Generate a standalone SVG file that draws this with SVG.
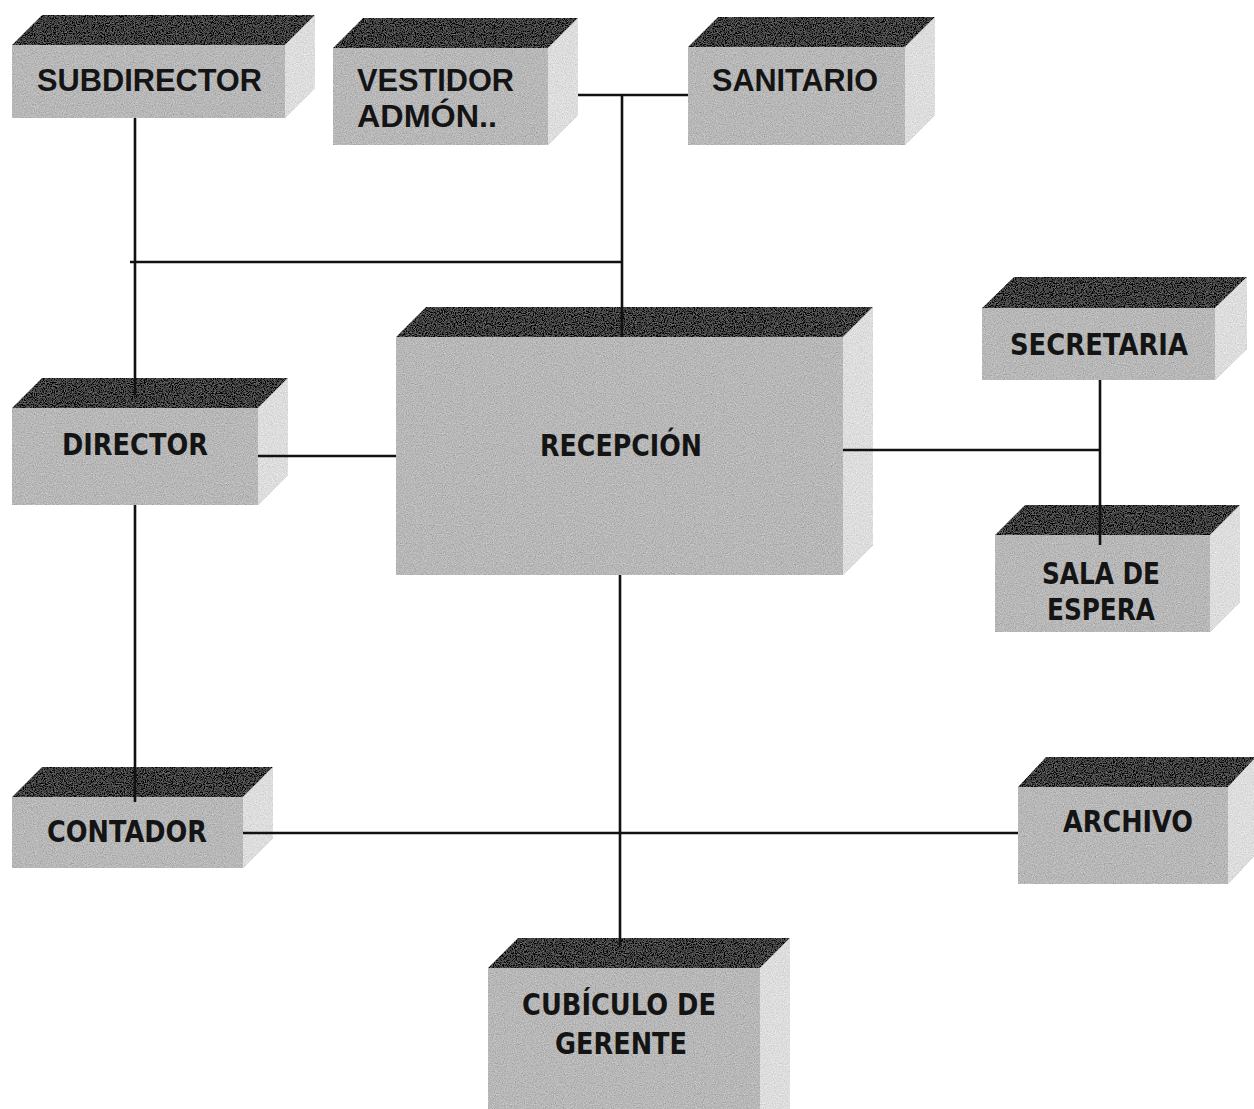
<svg xmlns="http://www.w3.org/2000/svg" width="1254" height="1109" viewBox="0 0 1254 1109">
<defs>
<filter id="grain" x="0" y="0" width="100%" height="100%">
<feTurbulence type="fractalNoise" baseFrequency="0.9" numOctaves="2" seed="4" result="n"/>
<feColorMatrix in="n" type="matrix" values="0.33 0.33 0.33 0 0 0.33 0.33 0.33 0 0 0.33 0.33 0.33 0 0 0 0 0 0 1" result="g"/>
<feComposite in="SourceGraphic" in2="g" operator="arithmetic" k1="0" k2="1" k3="0.7" k4="-0.34" result="m"/>
<feComposite in="m" in2="SourceGraphic" operator="in"/>
</filter>
<style>
.top{fill:#3a3a3a}
.front{fill:#b6b6b6}
.side{fill:#dcdcdc}
.box{filter:url(#grain)}
.a{font-family:"Liberation Sans",Arial,sans-serif;font-weight:bold;font-size:31px;fill:#141414}
.t{font-family:"DejaVu Sans",Verdana,sans-serif;font-weight:bold;font-size:30px;fill:#141414}
.ln{stroke:#111;stroke-width:2.6;fill:none}
</style>
</defs>
<rect width="1254" height="1109" fill="#ffffff"/>

<g id="subdirector">
<g class="box"><polygon class="top" points="12,45 42,15 315,15 285,45"/><polygon class="side" points="285,45 315,15 315,88 285,118"/><rect class="front" x="12" y="45" width="273" height="73"/></g>
<text class="a" x="37" y="91" textLength="225" lengthAdjust="spacingAndGlyphs">SUBDIRECTOR</text>
</g>

<g id="vestidor">
<g class="box"><polygon class="top" points="333,48 363,18 578,18 548,48"/><polygon class="side" points="548,48 578,18 578,115 548,145"/><rect class="front" x="333" y="48" width="215" height="97"/></g>
<text class="a" x="357" y="91" textLength="157" lengthAdjust="spacingAndGlyphs">VESTIDOR</text>
<text class="a" x="357" y="127" textLength="140" lengthAdjust="spacingAndGlyphs">ADMÓN..</text>
</g>

<g id="sanitario">
<g class="box"><polygon class="top" points="688,47 718,17 935,17 905,47"/><polygon class="side" points="905,47 935,17 935,115 905,145"/><rect class="front" x="688" y="47" width="217" height="98"/></g>
<text class="a" x="712" y="91" textLength="166" lengthAdjust="spacingAndGlyphs">SANITARIO</text>
</g>

<g id="secretaria">
<g class="box"><polygon class="top" points="982,308 1014,277 1247,277 1215,308"/><polygon class="side" points="1215,308 1247,277 1247,349 1215,380"/><rect class="front" x="982" y="308" width="233" height="72"/></g>
<text class="t" x="1010" y="355" textLength="178" lengthAdjust="spacingAndGlyphs">SECRETARIA</text>
</g>

<g id="sala-de-espera">
<g class="box"><polygon class="top" points="995,535 1025,505 1240,505 1210,535"/><polygon class="side" points="1210,535 1240,505 1240,602 1210,632"/><rect class="front" x="995" y="535" width="215" height="97"/></g>
<text class="t" x="1042" y="584" textLength="118" lengthAdjust="spacingAndGlyphs">SALA DE</text>
<text class="t" x="1047" y="620" textLength="108" lengthAdjust="spacingAndGlyphs">ESPERA</text>
</g>

<g id="director">
<g class="box"><polygon class="top" points="12,408 42,378 288,378 258,408"/><polygon class="side" points="258,408 288,378 288,475 258,505"/><rect class="front" x="12" y="408" width="246" height="97"/></g>
<text class="t" x="62" y="455" textLength="146" lengthAdjust="spacingAndGlyphs">DIRECTOR</text>
</g>

<g id="recepcion">
<g class="box"><polygon class="top" points="396,337 426,307 873,307 843,337"/><polygon class="side" points="843,337 873,307 873,545 843,575"/><rect class="front" x="396" y="337" width="447" height="238"/></g>
<text class="t" x="540" y="456" textLength="162" lengthAdjust="spacingAndGlyphs">RECEPCIÓN</text>
</g>

<g id="contador">
<g class="box"><polygon class="top" points="12,797 42,767 273,767 243,797"/><polygon class="side" points="243,797 273,767 273,838 243,868"/><rect class="front" x="12" y="797" width="231" height="71"/></g>
<text class="t" x="47" y="842" textLength="160" lengthAdjust="spacingAndGlyphs">CONTADOR</text>
</g>

<g id="archivo">
<g class="box"><polygon class="top" points="1018,787 1046,757 1256,757 1228,787"/><polygon class="side" points="1228,787 1256,757 1256,854 1228,884"/><rect class="front" x="1018" y="787" width="210" height="97"/></g>
<text class="t" x="1063" y="832" textLength="130" lengthAdjust="spacingAndGlyphs">ARCHIVO</text>
</g>

<g id="cubiculo-de-gerente">
<g class="box"><polygon class="top" points="488,968 518,938 790,938 760,968"/><polygon class="side" points="760,968 790,938 790,1109 760,1109"/><rect class="front" x="488" y="968" width="272" height="141"/></g>
<text class="t" x="522" y="1015" textLength="194" lengthAdjust="spacingAndGlyphs">CUBÍCULO DE</text>
<text class="t" x="555" y="1054" textLength="132" lengthAdjust="spacingAndGlyphs">GERENTE</text>
</g>

<g id="connectors" class="ln">
<line x1="135" y1="118" x2="135" y2="395"/>
<line x1="130" y1="262" x2="622" y2="262"/>
<line x1="622" y1="95" x2="622" y2="337"/>
<line x1="578" y1="95" x2="688" y2="95"/>
<line x1="258" y1="456" x2="396" y2="456"/>
<line x1="843" y1="450" x2="1100" y2="450"/>
<line x1="1100" y1="380" x2="1100" y2="545"/>
<line x1="135" y1="505" x2="135" y2="802"/>
<line x1="243" y1="833" x2="1018" y2="833"/>
<line x1="620" y1="575" x2="620" y2="945"/>
</g>
</svg>
